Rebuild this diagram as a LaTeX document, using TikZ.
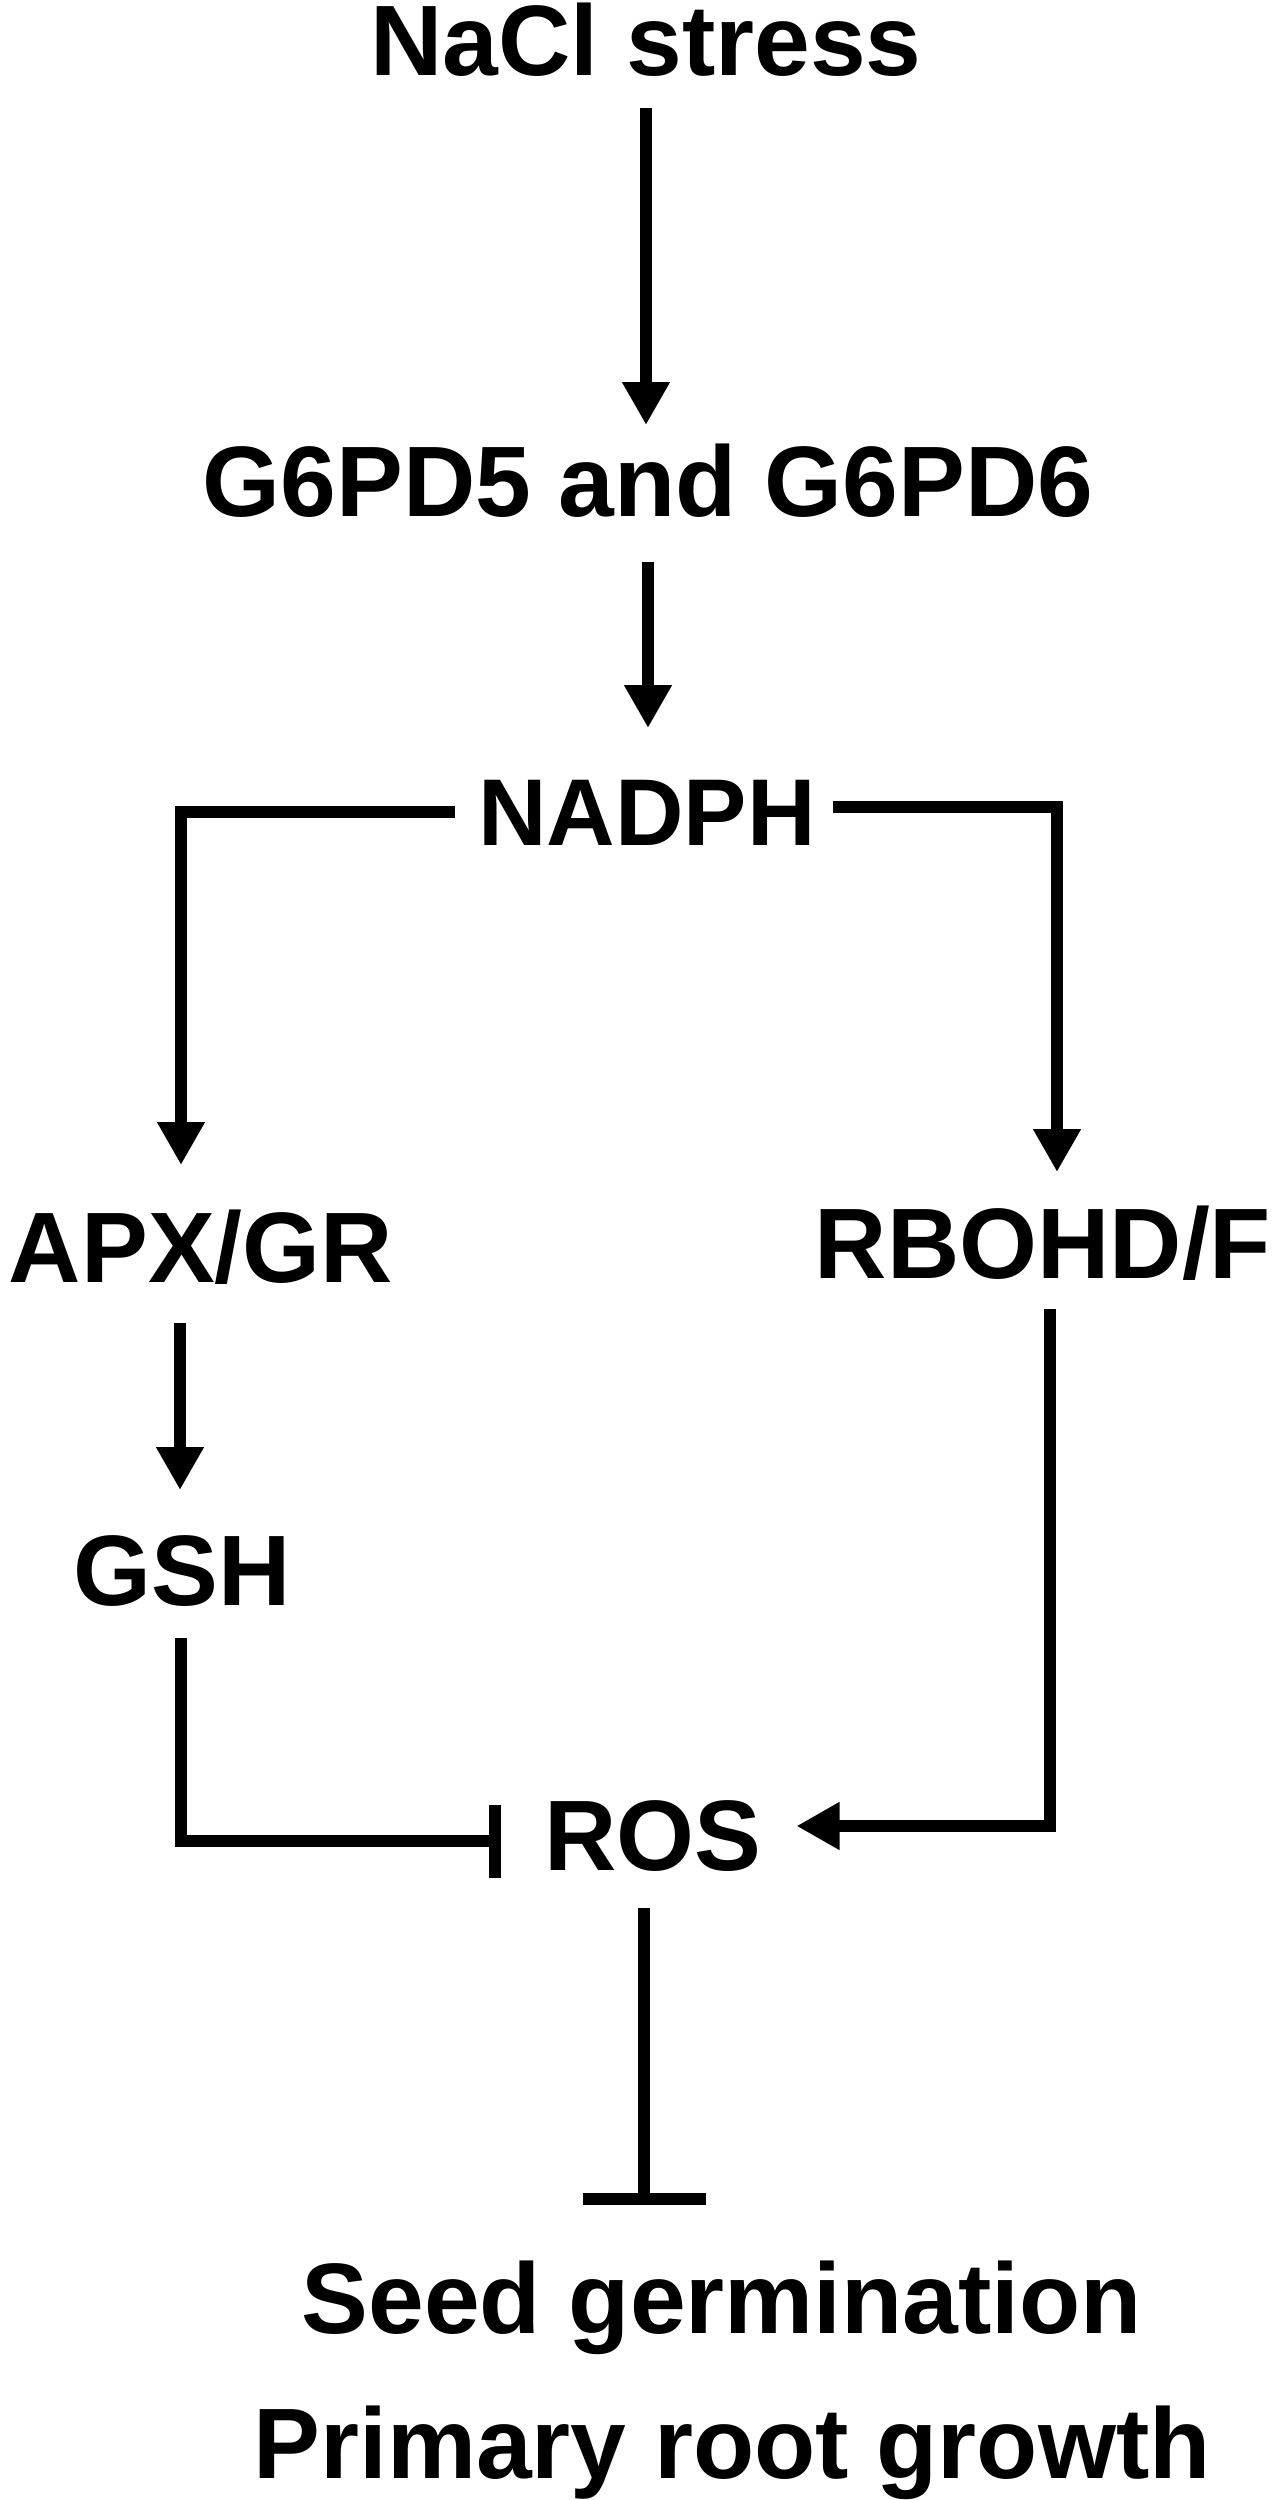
\documentclass[tikz,border=0pt]{standalone}
\usepackage{fontspec}
\setmainfont{Liberation Sans}
\usetikzlibrary{arrows.meta,calc}

\begin{document}
\begin{tikzpicture}[
  lbl/.style={font=\fontsize{28.5}{34}\selectfont\bfseries, inner sep=0pt, outer sep=0pt,
    text height=0.74cm, text depth=0pt, anchor=base},
  arr/.style={line width=0.12cm, -{Triangle[length=0.43cm, width=0.45cm]}},
  inh/.style={line width=0.12cm, -{Bar[width=#1]}}]

  % page frame (1275 x 2500)
  \useasboundingbox (0, 0) rectangle (12.75, -25);

  % labels
  \node[lbl] (nacl)  at (6.46, -0.76)  {NaCl stress};
  \node[lbl] (g6pd)  at (6.48, -5.16)  {G6PD5 and G6PD6};
  \node[lbl, font=\fontsize{27}{32}\selectfont\bfseries] (nadph) at (6.47, -8.45) {NADPH};
  \node[lbl] (apx)   at (2.01, -12.82) {APX/GR};
  \node[lbl] (rboh)  at (10.43, -12.78) {RBOHD/F};
  \node[lbl] (gsh)   at (1.82, -16.05) {GSH};
  \node[lbl] (ros)   at (6.53, -18.70) {ROS};
  \node[lbl] (seed)  at (7.22, -23.33) {Seed germination};
  \node[lbl] (prim)  at (7.32, -24.78) {Primary root growth};

  % main column
  \draw[arr] ($(nacl.south)+(0,-0.32)$) -- ($(nacl.south |- g6pd.north)+(0,0.17)$);
  \draw[arr] ($(g6pd.south)+(0,-0.46)$) -- ($(g6pd.south |- nadph.north)+(0,0.43)$);

  % NADPH branches
  \draw[arr] ($(nadph.west)+(-0.23,-0.04)$) -| ($(apx.north)+(-0.20,0.43)$);
  \draw[arr] ($(nadph.east)+(0.17,0.01)$) -| ($(rboh.north)+(0.14,0.32)$);

  % left side
  \draw[arr] ($(apx.south)+(-0.21,-0.41)$) -- ($(apx.south |- gsh.north)+(-0.21,0.41)$);
  \draw[inh=0.73cm] ($(gsh.south)+(-0.01,-0.33)$) |- ($(ros.west)+(-0.43,-0.08)$);

  % right side
  \draw[arr] ($(rboh.south)+(0.07,-0.31)$) |- ($(ros.east)+(0.35,0.07)$);

  % ROS to growth
  \draw[inh=1.23cm] ($(ros.south)+(-0.09,-0.38)$) -- ($(ros.south |- seed.north)+(-0.09,0.54)$);

\end{tikzpicture}
\end{document}
